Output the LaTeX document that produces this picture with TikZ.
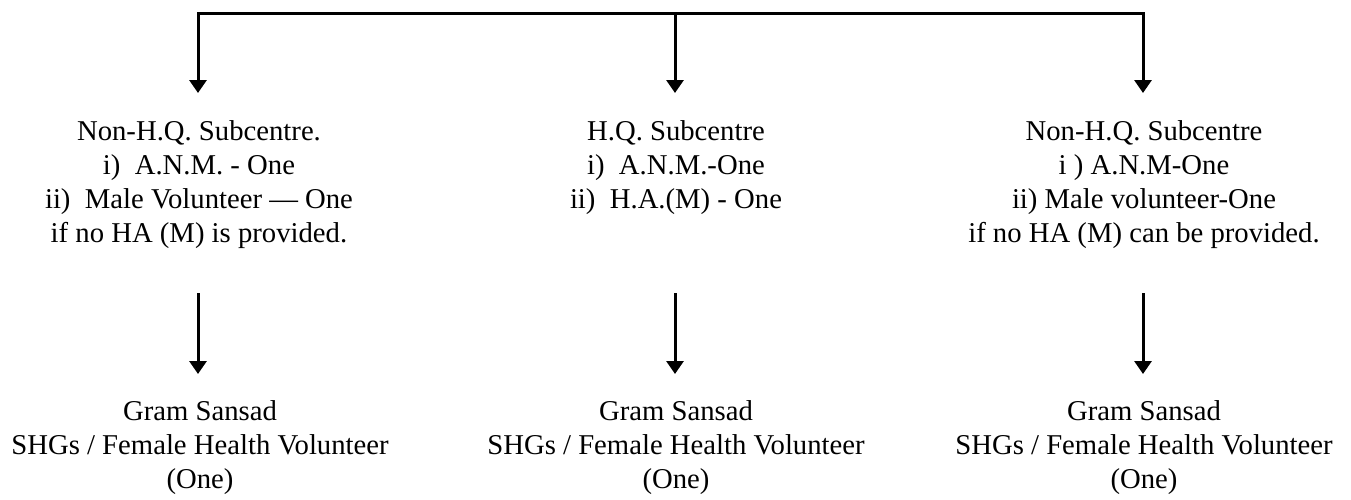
\documentclass[tikz,border=0pt]{standalone}
\usepackage{fontspec}
\setmainfont{Liberation Serif}
\usetikzlibrary{arrows.meta}
\begin{document}
\begin{tikzpicture}[x=1pt,y=-1pt,
  txt/.style={align=center,inner sep=0pt,anchor=base,font=\fontsize{28.7}{34}\selectfont},
  bar/.style={line width=3pt},
  arr/.style={line width=3pt,-{Triangle[width=17pt,length=13pt]}}]
\useasboundingbox (0,0) rectangle (1351,499);
\coordinate (tl) at (198,13);
\coordinate (tm) at (675,13);
\coordinate (tr) at (1143,13);
\draw[bar,line cap=rect] (tl) -- (tr);
\coordinate (a1) at (198,93);
\coordinate (a2) at (675,93);
\coordinate (a3) at (1143,93);
\draw[arr] (tl) -- (a1);
\draw[arr] (tm) -- (a2);
\draw[arr] (tr) -- (a3);
% base anchor of a multi-line node = baseline of its last line
\node[txt] (n1) at (199,242) {Non-H.Q. Subcentre.\\ i)~~A.N.M. - One\\ ii)~~Male Volunteer --- One\\ if no HA (M) is provided.};
\node[txt] (n2) at (676,208) {H.Q. Subcentre\\ i)~~A.N.M.-One\\ ii)~~H.A.(M) - One};
\node[txt] (n3) at (1144,242) {Non-H.Q. Subcentre\\ i )~A.N.M-One\\ ii) Male volunteer-One\\ if no HA (M) can be provided.};
\coordinate (b1) at (198,293);
\coordinate (b2) at (675,293);
\coordinate (b3) at (1143,293);
\coordinate (c1) at (198,374);
\coordinate (c2) at (675,374);
\coordinate (c3) at (1143,374);
\draw[arr] (b1) -- (c1);
\draw[arr] (b2) -- (c2);
\draw[arr] (b3) -- (c3);
\node[txt] (g1) at (200,488) {Gram Sansad\\ SHGs / Female Health Volunteer\\ (One)};
\node[txt] (g2) at (676,488) {Gram Sansad\\ SHGs / Female Health Volunteer\\ (One)};
\node[txt] (g3) at (1144,488) {Gram Sansad\\ SHGs / Female Health Volunteer\\ (One)};
\end{tikzpicture}
\end{document}
